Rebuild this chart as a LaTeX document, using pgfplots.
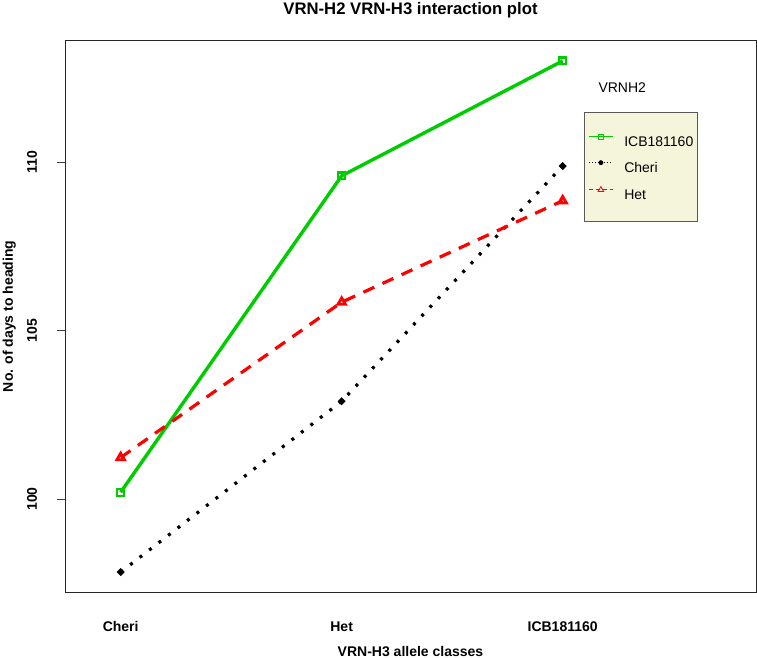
\documentclass[border=0pt]{standalone}
\usepackage{fontspec}
\setmainfont{Liberation Sans}
\usepackage{pgfplots}
\pgfplotsset{compat=1.18}

\definecolor{rgreen}{HTML}{00CD00}
\definecolor{legbg}{HTML}{F5F5DC}
\newcommand\px[1]{\fontsize{#1}{#1}\selectfont}

\begin{document}
\begin{tikzpicture}
\useasboundingbox (-65pt,-66pt) rectangle (692pt,592pt);
\begin{axis}[
    at={(0,0)}, anchor=south west,
    scale only axis, width=691pt, height=551.3pt,
    xmin=0.748, xmax=3.875, ymin=97.24, ymax=113.6,
    axis line style={black!85, line width=0.8pt},
    xtick={1,2,3}, xticklabels={Cheri,Het,ICB181160},
    xtick style={draw=none},
    ytick={100,105,110}, ytick pos=left, tick align=outside,
    major tick length=8pt,
    ytick style={black!75, line width=0.8pt},
    /pgf/number format/assume math mode=true,
    ticklabel style={font=\px{14}\bfseries},
    xticklabel style={anchor=base, yshift=-31pt},
    yticklabel style={xshift=-20pt, rotate=90, anchor=base},
    legend cell align=left,
    legend image code/.code={
        \draw[#1, line width=0.8pt, mark repeat=2, mark phase=2]
            plot coordinates {(0pt,5pt) (12pt,5pt) (24pt,5pt)};},
    legend style={at={(0.7515,0.870)}, anchor=north west,
        fill=legbg, draw=black!65, font=\px{14},
        inner xsep=4pt, inner ysep=21.5pt, row sep=14pt,
        nodes={inner sep=0pt, text height=10pt, text depth=0pt},
        /tikz/every odd column/.append style={column sep=11pt}},
]
% ICB181160 (VRN-H2)
\addplot[rgreen, line width=3.4pt, mark=square, mark size=3.4pt,
    mark options={solid, line width=2.2pt},
    legend image post style={mark size=2.6pt, mark options={solid, line width=0.8pt}}]
    coordinates {(1,100.2) (2,109.59) (3,113.0)};
\addlegendentry{ICB181160}
% Cheri
\addplot[black, line width=3.2pt, dash pattern=on 3pt off 9pt,
    mark=*, mark size=1.8pt, mark options={solid},
    legend image post style={dash pattern=on 1pt off 2pt, mark size=2pt}]
    coordinates {(1,97.83) (2,102.9) (3,109.88)};
\addlegendentry{Cheri}
% Het
\addplot[red, line width=3.2pt, dash pattern=on 12pt off 9pt,
    mark=triangle, mark size=4.3pt,
    mark options={solid, line width=2.8pt},
    legend image post style={dash pattern=on 4pt off 3pt, mark size=3.2pt,
        mark options={solid, line width=0.8pt}}]
    coordinates {(1,101.23) (2,105.84) (3,108.85)};
\addlegendentry{Het}
\end{axis}
\node[anchor=base, font=\px{16.7}\bfseries] at (345.5pt,577pt)
    {VRN-H2 VRN-H3 interaction plot};
\node[anchor=base, font=\px{14}\bfseries] at (345.5pt,-64pt)
    {VRN-H3 allele classes};
\node[rotate=90, anchor=base, font=\px{14}\bfseries] at (-52pt,275.65pt)
    {No. of days to heading};
\node[anchor=base west, font=\px{14}] at (530pt,499pt) {VRNH2};
\end{tikzpicture}
\end{document}
